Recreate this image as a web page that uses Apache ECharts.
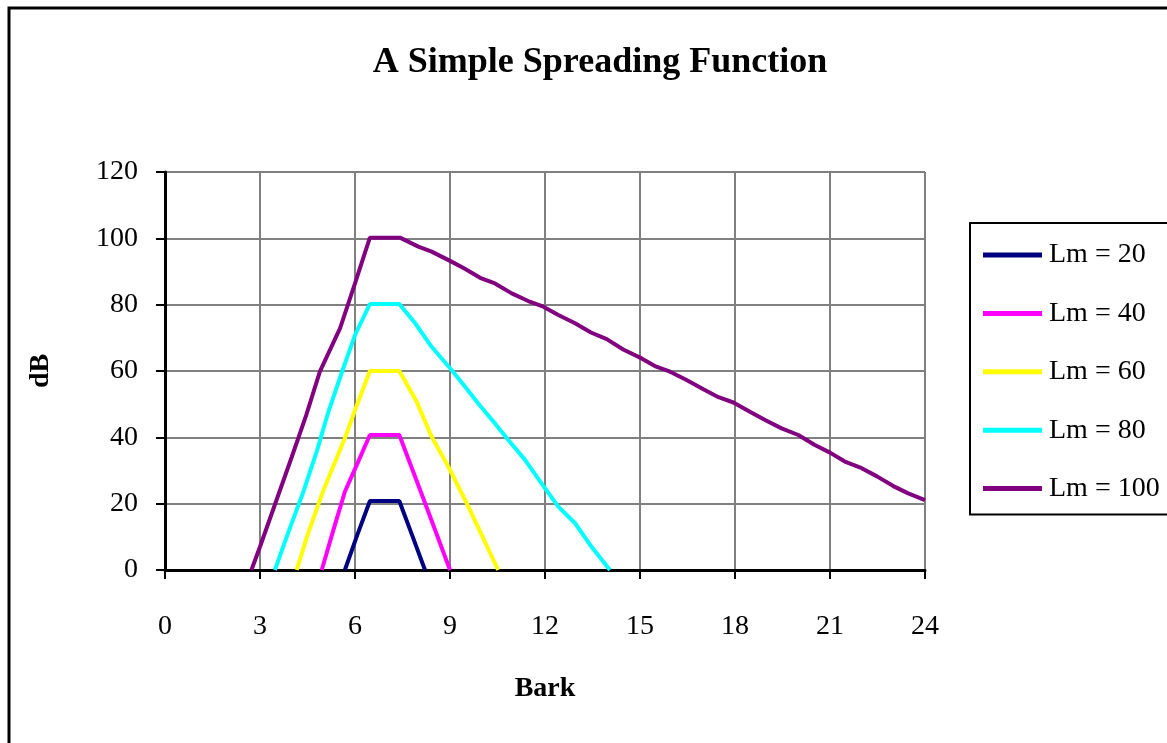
<!DOCTYPE html>
<html>
<head>
<meta charset="utf-8">
<script src="https://cdn.jsdelivr.net/npm/echarts@6/dist/echarts.min.js"></script>
<style>
  html, body { margin: 0; padding: 0; background: #fff; }
  #chart { width: 1167px; height: 743px; }
</style>
</head>
<body>
<div id="chart"></div>
<script>
// [bark, dB] pairs
const lm20 = [[5.68, 0], [6.07, 10.5], [6.47, 20.8], [7.4, 20.8], [7.8, 10.6], [8.21, 0]];
const lm40 = [[4.95, 0], [5.3, 11.5], [5.68, 23.6], [6.07, 32], [6.47, 40.7], [7.4, 40.7], [8.2, 20.5], [9.0, 0]];
const lm60 = [[4.16, 0], [4.5, 10.5], [5.0, 24], [5.68, 39.7], [6.07, 50], [6.47, 60], [7.4, 60],
  [7.95, 50.7], [8.42, 40.2], [8.95, 31.1], [9.53, 20.1], [10.0, 10.6], [10.52, 0]];
const lm80 = [[3.47, 0], [3.9, 11.5], [4.37, 23.6], [4.8, 36], [5.16, 47.7], [5.6, 60], [6.0, 70.8], [6.47, 80.2],
  [7.4, 80.2], [7.9, 74.4], [8.42, 67.3], [9.05, 60.3], [9.47, 55.3], [9.95, 49.5], [10.42, 44.2], [10.84, 39.2],
  [11.37, 33.2], [11.89, 26.1], [12.42, 19.1], [12.95, 14.1], [13.47, 7.0], [14.05, 0]];
const lm100 = [[2.73, 0], [3.0, 7], [3.5, 20.5], [4.0, 34], [4.46, 46.7], [4.89, 59.8], [5.53, 72.9], [6.0, 86.4],
  [6.47, 100.2], [7.42, 100.2], [8.0, 97.5], [8.42, 96], [9.0, 93.2], [9.47, 90.8], [9.95, 88.1], [10.42, 86.4],
  [10.95, 83.4], [11.47, 81.1], [11.95, 79.4], [12.42, 76.9], [12.95, 74.4], [13.45, 71.6], [13.95, 69.6],
  [14.47, 66.5], [15.05, 63.8], [15.47, 61.5], [15.95, 59.8], [16.47, 57.3], [17.0, 54.5], [17.48, 52.1],
  [17.95, 50.5], [18.47, 47.7], [18.95, 45.2], [19.47, 42.7], [20.0, 40.7], [20.52, 37.7], [21.0, 35.4],
  [21.47, 32.7], [22.0, 30.7], [22.47, 28.3], [23.0, 25.3], [23.47, 23.1], [24.0, 21.1]];

const seriesNames = ['Lm = 20', 'Lm = 40', 'Lm = 60', 'Lm = 80', 'Lm = 100'];
const seriesData = [lm20, lm40, lm60, lm80, lm100];
const seriesColors = ['#000080', '#ff00ff', '#ffff00', '#00ffff', '#800080'];

const serif = '"Liberation Serif", "Times New Roman", serif';

const chart = echarts.init(document.getElementById('chart'));

const series = seriesData.map((d, i) => ({
  name: seriesNames[i],
  type: 'line',
  data: d,
  showSymbol: false,
  symbol: 'none',
  clip: true,
  lineStyle: { color: seriesColors[i], width: 4 },
  itemStyle: { color: seriesColors[i] },
  animation: false,
}));

chart.setOption({
  backgroundColor: '#fff',
  animation: false,
  title: {
    text: 'A Simple Spreading Function',
    left: 600,
    top: 45,
    padding: 0,
    textAlign: 'center',
    textStyle: { fontFamily: serif, fontSize: 36, fontWeight: 'bold', color: '#000' },
  },
  graphic: [{
    type: 'rect',
    shape: { x: 9, y: 8, width: 1400, height: 1000 },
    style: { fill: 'none', stroke: '#000', lineWidth: 3 },
    silent: true,
  }],
  legend: {
    orient: 'vertical',
    left: 970,
    top: 223,
    padding: [18, 20, 12, 13],
    itemGap: 30.4,
    itemWidth: 59,
    itemHeight: 5,
    icon: 'rect',
    borderColor: '#000',
    borderWidth: 2,
    backgroundColor: '#fff',
    data: seriesNames,
    textStyle: { fontFamily: serif, fontSize: 28, color: '#000', padding: [0, 0, 0, 2] },
  },
  grid: { left: 165, right: 242, top: 172, bottom: 173, containLabel: false },
  xAxis: {
    type: 'value',
    min: 0,
    max: 24,
    interval: 3,
    name: 'Bark',
    nameLocation: 'middle',
    nameGap: 105,
    nameTextStyle: { fontFamily: serif, fontSize: 28, fontWeight: 'bold', color: '#000' },
    axisLine: { show: true, onZero: false, lineStyle: { color: '#000', width: 3 } },
    axisTick: { show: true, length: 9, lineStyle: { color: '#000', width: 2 } },
    axisLabel: { margin: 43, fontFamily: serif, fontSize: 28, color: '#000' },
    splitLine: { show: true, lineStyle: { color: '#808080', width: 2 } },
  },
  yAxis: {
    type: 'value',
    min: 0,
    max: 120,
    interval: 20,
    name: 'dB',
    nameLocation: 'middle',
    nameGap: 110,
    nameRotate: 90,
    nameTextStyle: { fontFamily: serif, fontSize: 28, fontWeight: 'bold', color: '#000' },
    axisLine: { show: true, lineStyle: { color: '#000', width: 3 } },
    axisTick: { show: true, length: 9, lineStyle: { color: '#000', width: 2 } },
    axisLabel: { margin: 27, fontFamily: serif, fontSize: 28, color: '#000' },
    splitLine: { show: true, lineStyle: { color: '#808080', width: 2 } },
  },
  series: series,
});
</script>
</body>
</html>
